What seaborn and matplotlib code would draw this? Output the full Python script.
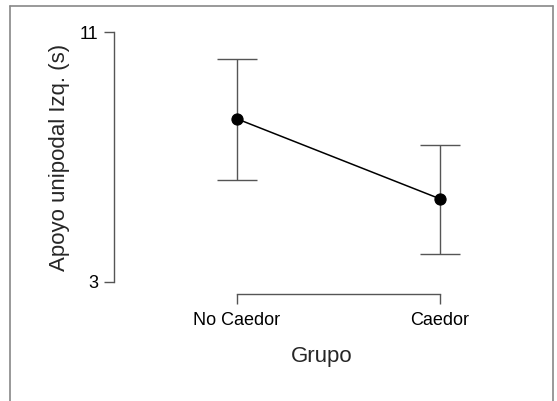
import pandas as pd
import matplotlib
matplotlib.use('Agg')
import matplotlib.pyplot as plt
from matplotlib.lines import Line2D
import seaborn as sns

# Datos (media e intervalo)
grupos = ['No Caedor', 'Caedor']
medias = [8.22, 5.66]
inferior = [6.26, 3.90]
superior = [10.14, 7.38]

df = pd.DataFrame({'Grupo': grupos, 'Apoyo': medias})

sns.set_style('ticks')
plt.rcParams['font.family'] = ['Liberation Sans', 'DejaVu Sans']

W, H = 557, 401
fig = plt.figure(figsize=(W / 100, H / 100), dpi=100)
ax = fig.add_axes([114 / W, (H - 294) / H, (530 - 114) / W, (294 - 20) / H])

# Barras de error (debajo de los puntos)
err_lo = [m - lo for m, lo in zip(medias, inferior)]
err_hi = [hi - m for m, hi in zip(medias, superior)]
ax.errorbar(range(len(grupos)), medias, yerr=[err_lo, err_hi], fmt='none',
            ecolor='#555555', elinewidth=1.0, capsize=14.75, capthick=1.0, zorder=1)

sns.pointplot(data=df, x='Grupo', y='Apoyo', order=grupos, color='black',
              errorbar=None, markers='o', linestyles='-', ax=ax,
              markersize=8, linewidth=1.1, zorder=3)

ax.set_xlim(-0.606, 1.443)
ax.set_ylim(2.616, 11.384)
ax.set_yticks([3, 11])
ax.set_yticklabels(['3', '11'])
ax.set_xticks([0, 1])
ax.set_xticklabels(grupos)

sns.despine(ax=ax)
ax.spines['left'].set_bounds(3, 11)
ax.spines['bottom'].set_bounds(0, 1)
for s in ['left', 'bottom']:
    ax.spines[s].set_color('#555555')
    ax.spines[s].set_linewidth(1.0)
ax.tick_params(axis='both', colors='#555555', length=7, width=1.0, pad=4,
               labelsize=13, labelcolor='black')
ax.tick_params(axis='x', pad=6)

ax.set_xlabel('Grupo', fontsize=16, labelpad=12)
ax.set_ylabel('Apoyo unipodal Izq. (s)', fontsize=16, labelpad=7)

# Marco gris alrededor (sin borde inferior)
x0, x1 = 10 / W, 553 / W
yt = 1 - 6 / H
for xs, ys in [([x0, x0], [0, yt]), ([x0, x1], [yt, yt]), ([x1, x1], [yt, 0])]:
    fig.add_artist(Line2D(xs, ys, transform=fig.transFigure, color='#888888', linewidth=1.2))

fig.savefig('out.png', dpi=100)
